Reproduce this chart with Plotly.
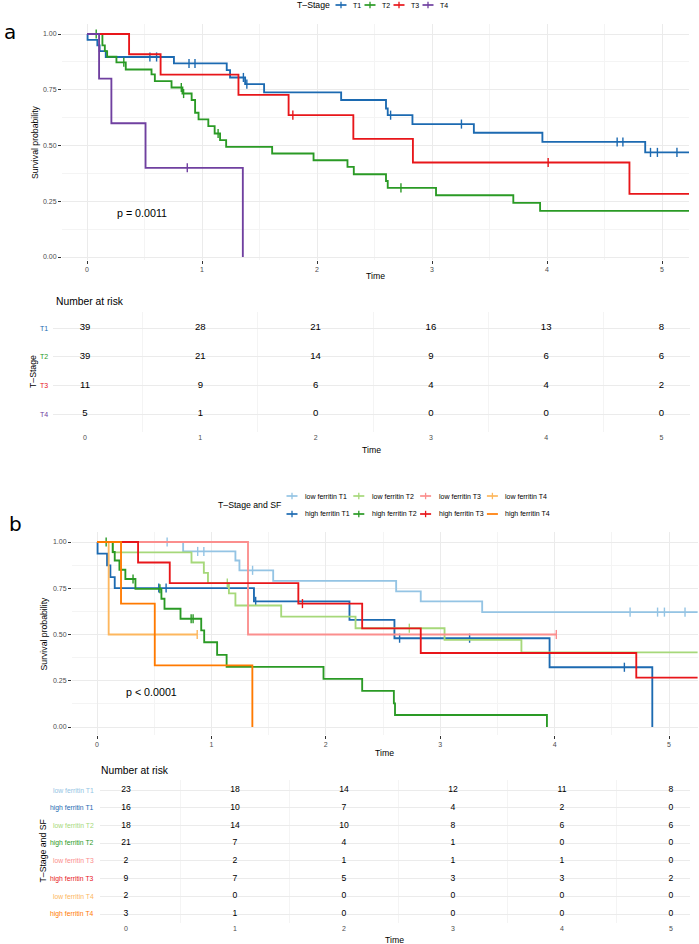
import plotly.graph_objects as go

W, H = 699, 944
def fx(x): return x / W
def fy(y): return 1 - y / H

FONT = "Liberation Sans, Arial, Helvetica, sans-serif"
TICKC = "#4D4D4D"
GRID = "#EBEBEB"
MINOR = "#F4F4F4"

# ---------------- Panel a : T-Stage ----------------
a_names = ["T1", "T2", "T3", "T4"]
a_colors = ["#1C6AB1", "#2A9A25", "#E8161A", "#7040A0"]

a_T1_time = [0, 0.005, 0.09, 0.11, 0.163, 0.756, 1.215, 1.244, 1.375, 1.54, 2.21, 2.60, 2.615, 2.83, 3.364, 3.96, 4.854]
a_T1_surv = [1.0, 0.974, 0.949, 0.923, 0.897, 0.868, 0.838, 0.805, 0.775, 0.738, 0.704, 0.666, 0.636, 0.596, 0.557, 0.516, 0.469]
a_T1_cens = [0.547, 0.605, 0.887, 0.939, 1.36, 1.39, 2.64, 3.256, 4.61, 4.66, 4.90, 4.96, 5.13]
a_T1_end = 5.25

a_T2_time = [0, 0.134, 0.155, 0.175, 0.256, 0.337, 0.561, 0.59, 0.735, 0.83, 0.91, 0.94, 0.97, 1.055, 1.11, 1.157, 1.21, 1.61, 1.97, 2.265, 2.32, 2.60, 2.615, 3.035, 3.707, 3.94]
a_T2_surv = [1.0, 0.949, 0.923, 0.898, 0.873, 0.841, 0.819, 0.789, 0.760, 0.733, 0.704, 0.647, 0.617, 0.587, 0.554, 0.524, 0.494, 0.464, 0.434, 0.404, 0.371, 0.341, 0.310, 0.277, 0.243, 0.207]
a_T2_cens = [0.08, 0.32, 0.82, 0.84, 1.14, 2.73]
a_T2_end = 5.25

a_T3_time = [0, 0.366, 0.64, 1.317, 1.753, 2.316, 2.834, 4.717]
a_T3_surv = [1.0, 0.909, 0.818, 0.727, 0.636, 0.530, 0.424, 0.283]
a_T3_cens = [1.79, 4.01]
a_T3_end = 5.25

a_T4_time = [0, 0.105, 0.212, 0.509, 1.355]
a_T4_surv = [1.0, 0.8, 0.6, 0.4, 0.0]
a_T4_cens = [0.872]
a_T4_end = 1.355

a_risk_times = [0, 1, 2, 3, 4, 5]
a_risk_T1 = [39, 28, 21, 16, 13, 8]
a_risk_T2 = [39, 21, 14, 9, 6, 6]
a_risk_T3 = [11, 9, 6, 4, 4, 2]
a_risk_T4 = [5, 1, 0, 0, 0, 0]

# ---------------- Panel b : T-Stage and SF ----------------
b_names = ["low ferritin T1", "high ferritin T1", "low ferritin T2", "high ferritin T2",
           "low ferritin T3", "high ferritin T3", "low ferritin T4", "high ferritin T4"]
b_colors = ["#94C4E4", "#1C6AB1", "#A6D87A", "#2A9A25", "#FB8E8D", "#E8161A", "#FDB75E", "#FF7A00"]

b_LT1_time = [0, 0.753, 1.21, 1.245, 1.54, 2.615, 2.83, 3.367]
b_LT1_surv = [1.0, 0.949, 0.900, 0.847, 0.790, 0.733, 0.679, 0.621]
b_LT1_cens = [0.613, 0.88, 0.934, 1.36, 4.66, 4.90, 4.96, 5.14]
b_LT1_end = 5.25

b_HT1_time = [0, 0.005, 0.088, 0.117, 0.155, 1.372, 2.207, 2.60, 3.956, 4.854]
b_HT1_surv = [1.0, 0.937, 0.874, 0.810, 0.751, 0.679, 0.579, 0.480, 0.323, 0.0]
b_HT1_cens = [0.54, 0.604, 1.387, 2.645, 3.257, 4.61]
b_HT1_end = 4.854

b_LT2_time = [0, 0.14, 0.826, 0.934, 0.97, 1.153, 1.21, 1.61, 2.26, 3.038, 3.71]
b_LT2_surv = [1.0, 0.944, 0.889, 0.833, 0.778, 0.722, 0.657, 0.597, 0.534, 0.471, 0.403]
b_LT2_cens = [1.139, 2.73]
b_LT2_end = 5.25

b_HT2_time = [0, 0.137, 0.155, 0.196, 0.248, 0.336, 0.563, 0.59, 0.73, 0.911, 0.937, 1.05, 1.133, 1.98, 2.318, 2.595, 2.605, 3.933]
b_HT2_surv = [1.0, 0.946, 0.900, 0.850, 0.800, 0.747, 0.693, 0.639, 0.585, 0.522, 0.458, 0.390, 0.325, 0.260, 0.195, 0.128, 0.065, 0.0]
b_HT2_cens = [0.08, 0.315, 0.55, 0.823, 0.84]
b_HT2_end = 3.933

b_LT3_time = [0, 1.32]
b_LT3_surv = [1.0, 0.5]
b_LT3_cens = [4.015]
b_LT3_end = 4.015

b_HT3_time = [0, 0.359, 0.636, 1.76, 2.318, 2.83, 4.714]
b_HT3_surv = [1.0, 0.889, 0.778, 0.667, 0.533, 0.400, 0.267]
b_HT3_cens = [1.796]
b_HT3_end = 5.25

b_LT4_time = [0, 0.102]
b_LT4_surv = [1.0, 0.5]
b_LT4_cens = [0.876]
b_LT4_end = 0.876

b_HT4_time = [0, 0.21, 0.505, 1.358]
b_HT4_surv = [1.0, 0.667, 0.333, 0.0]
b_HT4_cens = []
b_HT4_end = 1.358

b_risk_times = [0, 1, 2, 3, 4, 5]
b_risk_LT1 = [23, 18, 14, 12, 11, 8]
b_risk_HT1 = [16, 10, 7, 4, 2, 0]
b_risk_LT2 = [18, 14, 10, 8, 6, 6]
b_risk_HT2 = [21, 7, 4, 1, 0, 0]
b_risk_LT3 = [2, 2, 1, 1, 1, 0]
b_risk_HT3 = [9, 7, 5, 3, 3, 2]
b_risk_LT4 = [2, 0, 0, 0, 0, 0]
b_risk_HT4 = [3, 1, 0, 0, 0, 0]

a_curves = [
    (a_T1_time, a_T1_surv, a_T1_cens, a_T1_end),
    (a_T2_time, a_T2_surv, a_T2_cens, a_T2_end),
    (a_T3_time, a_T3_surv, a_T3_cens, a_T3_end),
    (a_T4_time, a_T4_surv, a_T4_cens, a_T4_end),
]
b_curves = [
    (b_LT1_time, b_LT1_surv, b_LT1_cens, b_LT1_end),
    (b_HT1_time, b_HT1_surv, b_HT1_cens, b_HT1_end),
    (b_LT2_time, b_LT2_surv, b_LT2_cens, b_LT2_end),
    (b_HT2_time, b_HT2_surv, b_HT2_cens, b_HT2_end),
    (b_LT3_time, b_LT3_surv, b_LT3_cens, b_LT3_end),
    (b_HT3_time, b_HT3_surv, b_HT3_cens, b_HT3_end),
    (b_LT4_time, b_LT4_surv, b_LT4_cens, b_LT4_end),
    (b_HT4_time, b_HT4_surv, b_HT4_cens, b_HT4_end),
]
a_risk = [a_risk_T1, a_risk_T2, a_risk_T3, a_risk_T4]
b_risk = [b_risk_LT1, b_risk_HT1, b_risk_LT2, b_risk_HT2, b_risk_LT3, b_risk_HT3, b_risk_LT4, b_risk_HT4]


def surv_at(times, surv, t):
    v = surv[0]
    for ti, si in zip(times, surv):
        if ti <= t:
            v = si
    return v


fig = go.Figure()


def add_curves(curves, colors, xa, ya):
    for (tm, sv, cens, end), col in zip(curves, colors):
        xs = list(tm)
        ys = list(sv)
        if end > xs[-1]:
            xs.append(end)
            ys.append(sv[-1])
        fig.add_trace(go.Scatter(x=xs, y=ys, mode="lines", line=dict(color=col, width=1.85, shape="hv"),
                                 xaxis=xa, yaxis=ya, hoverinfo="skip"))
        if cens:
            fig.add_trace(go.Scatter(x=cens, y=[surv_at(tm, sv, c) for c in cens], mode="markers",
                                     marker=dict(symbol="line-ns", size=6.5, line=dict(width=1.4, color=col)),
                                     xaxis=xa, yaxis=ya, hoverinfo="skip"))


add_curves(a_curves, a_colors, "x", "y")
add_curves(b_curves, b_colors, "x3", "y3")

# risk tables
na = len(a_risk)
for i, row in enumerate(a_risk):
    fig.add_trace(go.Scatter(x=a_risk_times, y=[na - i] * len(row), text=[str(v) for v in row], mode="text",
                             textfont=dict(size=9.6, color="black", family=FONT),
                             xaxis="x2", yaxis="y2", hoverinfo="skip"))
nb = len(b_risk)
for i, row in enumerate(b_risk):
    fig.add_trace(go.Scatter(x=b_risk_times, y=[nb - i] * len(row), text=[str(v) for v in row], mode="text",
                             textfont=dict(size=8.6, color="black", family=FONT),
                             xaxis="x4", yaxis="y4", hoverinfo="skip"))

# ---- axes ----
def main_x(dom, rng):
    return dict(domain=dom, range=rng, tickvals=[0, 1, 2, 3, 4, 5], ticks="outside", ticklen=3,
                tickcolor="#333333", tickwidth=1, tickfont=dict(size=7, color=TICKC, family=FONT),
                showgrid=True, gridcolor=GRID, gridwidth=1.2, zeroline=False, showline=False,
                minor=dict(tickvals=[0.5, 1.5, 2.5, 3.5, 4.5], showgrid=True, gridcolor=MINOR, gridwidth=1, ticks=""))

def main_y(dom, rng, anchor):
    return dict(domain=dom, range=rng, anchor=anchor, tickvals=[0, 0.25, 0.5, 0.75, 1.0],
                ticktext=["0.00", "0.25", "0.50", "0.75", "1.00"], ticks="outside", ticklen=3,
                tickcolor="#333333", tickwidth=1, tickfont=dict(size=7, color=TICKC, family=FONT),
                showgrid=True, gridcolor=GRID, gridwidth=1.2, zeroline=False, showline=False,
                minor=dict(tickvals=[0.125, 0.375, 0.625, 0.875], showgrid=True, gridcolor=MINOR, gridwidth=1, ticks=""))

def risk_x(dom, rng, anchor):
    return dict(domain=dom, range=rng, anchor=anchor, tickvals=[0, 1, 2, 3, 4, 5], ticks="", ticklen=0,
                tickfont=dict(size=7, color=TICKC, family=FONT), showgrid=False, zeroline=False, showline=False,
                minor=dict(tickvals=[0.5, 1.5, 2.5, 3.5, 4.5], showgrid=True, gridcolor=MINOR, gridwidth=1, ticks=""))

def risk_y(dom, rng, n, anchor):
    return dict(domain=dom, range=rng, anchor=anchor, tickvals=list(range(1, n + 1)), showticklabels=False,
                ticks="", showgrid=True, gridcolor=GRID, gridwidth=1.2, zeroline=False, showline=False)

# panel a plot: x0 at 87px, 115 px/unit ; y 1.0 at 34px, 0 at 257px
ax_l, ax_r = 62, 689
ay_t, ay_b = 24, 260
fig.update_layout(
    xaxis=main_x([fx(ax_l), fx(ax_r)], [(ax_l - 87) / 115, (ax_r - 87) / 115]) | dict(anchor="y"),
    yaxis=main_y([fy(ay_b), fy(ay_t)], [(257 - ay_b) / 223, (257 - ay_t) / 223], "x"),
)
# panel a risk table
rx_l, rx_r = 53, 690
ry_t, ry_b = 312, 432
fig.update_layout(
    xaxis2=risk_x([fx(rx_l), fx(rx_r)], [(rx_l - 85) / 115.3, (rx_r - 85) / 115.3], "y2"),
    yaxis2=risk_y([fy(ry_b), fy(ry_t)], [1 - (ry_b - 414) / 28.67, 4 + (328 - ry_t) / 28.67], 4, "x2"),
)
# panel b plot: x0 at 97px, 114.4 px/unit ; y 1.0 at 542, 0 at 727
bx_l, bx_r = 72, 698
by_t, by_b = 532, 735
fig.update_layout(
    xaxis3=main_x([fx(bx_l), fx(bx_r)], [(bx_l - 97) / 114.4, (bx_r - 97) / 114.4]) | dict(anchor="y3"),
    yaxis3=main_y([fy(by_b), fy(by_t)], [(727 - by_b) / 185, (727 - by_t) / 185], "x3"),
)
# panel b risk table: x0 at 126px, 109 px/unit ; rows 790..914
sx_l, sx_r = 100, 690
sy_t, sy_b = 780, 923
fig.update_layout(
    xaxis4=risk_x([fx(sx_l), fx(sx_r)], [(sx_l - 126) / 109, (sx_r - 126) / 109], "y4"),
    yaxis4=risk_y([fy(sy_b), fy(sy_t)], [1 - (sy_b - 914) / 17.71, 8 + (790 - sy_t) / 17.71], 8, "x4"),
)

ann = []
shapes = []

def text(x, y, s, size, color="black", xanchor="center", yanchor="middle", angle=0, family=FONT):
    ann.append(dict(x=fx(x), y=fy(y), xref="paper", yref="paper", text=s, showarrow=False,
                    xanchor=xanchor, yanchor=yanchor, textangle=angle,
                    font=dict(size=size, color=color, family=family)))

# panel letters
text(10, 32, "a", 20, family="DejaVu Sans, sans-serif")
text(15, 524, "b", 20, family="DejaVu Sans, sans-serif")

# axis titles
text(35, (ay_t + ay_b) / 2, "Survival probability", 8.7, angle=-90)
text((ax_l + ax_r) / 2, 276, "Time", 8.7)
text(33, (ry_t + ry_b) / 2, "T\u2013Stage", 8.7, angle=-90)
text((rx_l + rx_r) / 2, 450, "Time", 8.7)
text(43, (by_t + by_b) / 2, "Survival probability", 8.7, angle=-90)
text((bx_l + bx_r) / 2, 753, "Time", 8.7)
text(42, (sy_t + sy_b) / 2, "T\u2013Stage and SF", 8.7, angle=-90)
text((sx_l + sx_r) / 2, 940, "Time", 8.7)

# p values
text(142, 213, "p = 0.0011", 10.7)
text(151, 692, "p < 0.0001", 10.7)

# Number at risk
text(54, 301, "Number at risk", 10.3, xanchor="left")
text(99, 770, "Number at risk", 10.3, xanchor="left")

# risk table row labels
for i, (nm, col) in enumerate(zip(a_names, a_colors)):
    ann.append(dict(x=fx(50), y=na - i, xref="paper", yref="y2", text=nm, showarrow=False, xanchor="right",
                    yanchor="middle", font=dict(size=7, color=col, family=FONT)))
for i, (nm, col) in enumerate(zip(b_names, b_colors)):
    ann.append(dict(x=fx(96), y=nb - i, xref="paper", yref="y4", text=nm, showarrow=False, xanchor="right",
                    yanchor="middle", font=dict(size=6.8, color=col, family=FONT)))

# legends (drawn manually)
def legend_key(cx, cy, col, cross):
    shapes.append(dict(type="line", xref="paper", yref="paper", x0=fx(cx - 5.5), x1=fx(cx + 5.5), y0=fy(cy), y1=fy(cy),
                       line=dict(color=col, width=1.7)))
    if cross:
        shapes.append(dict(type="line", xref="paper", yref="paper", x0=fx(cx), x1=fx(cx), y0=fy(cy - 3.2), y1=fy(cy + 3.2),
                           line=dict(color=col, width=1.3)))

text(332, 5, "T\u2013Stage", 8.7, xanchor="right")
for i, (nm, col, cv) in enumerate(zip(a_names, a_colors, a_curves)):
    cx = 341 + 29 * i
    legend_key(cx, 5, col, len(cv[2]) > 0)
    text(cx + 10, 5, nm, 7, xanchor="left")

text(283, 505, "T\u2013Stage and SF", 8.7, xanchor="right")
for i, (nm, col, cv) in enumerate(zip(b_names, b_colors, b_curves)):
    colno, rowno = i // 2, i % 2
    cx = 292 + 66.8 * colno
    cy = 496 + 18 * rowno
    legend_key(cx, cy, col, len(cv[2]) > 0)
    text(cx + 11, cy, nm, 7, xanchor="left")

fig.update_layout(
    width=W, height=H, margin=dict(l=0, r=0, t=0, b=0),
    paper_bgcolor="white", plot_bgcolor="white", showlegend=False,
    annotations=ann, shapes=shapes, font=dict(family=FONT),
)

fig.write_html("out.html")
